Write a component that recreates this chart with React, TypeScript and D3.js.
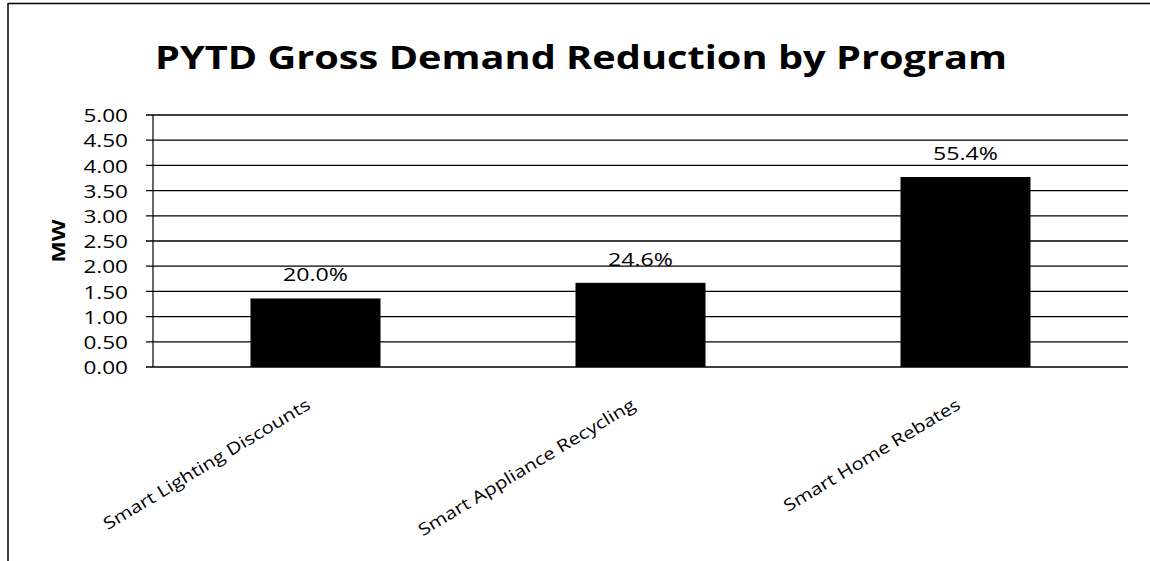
import React from "react";
import * as d3 from "d3";

const categories = [
  "Smart Lighting Discounts",
  "Smart Appliance Recycling",
  "Smart Home Rebates",
];
const demandMW = [1.36, 1.67, 3.77];
const yTicks = [0, 0.5, 1, 1.5, 2, 2.5, 3, 3.5, 4, 4.5, 5];
const titleText = "PYTD Gross Demand Reduction by Program";
const yAxisTitle = "MW";

const W = 1150;
const H = 561;
const FONT = "'Open Sans', 'Noto Sans', sans-serif";
const SX = 1.22; // horizontal stretch applied to chart text

export default function App() {
  const x = d3
    .scaleBand<string>()
    .domain(categories)
    .range([153, 1128])
    .paddingInner(0.6)
    .paddingOuter(0.3);
  const y = d3.scaleLinear().domain([0, 5]).range([367, 115]);
  const total = d3.sum(demandMW);
  const pct = d3.format(".1%");
  const tickFmt = d3.format(".2f");

  return (
    <div style={{ position: "fixed", left: 0, top: 0, width: W, height: H, background: "#fff" }}>
      <svg width={W} height={H} style={{ display: "block" }}>
        <rect x={0} y={0} width={W} height={H} fill="#fff" />
        {/* chart frame */}
        <line x1={8} x2={W} y1={3.5} y2={3.5} stroke="#000" strokeWidth={1.5} />
        <line x1={8} x2={8} y1={3} y2={H} stroke="#000" strokeWidth={1.5} />

        {/* title */}
        <text
          x={581}
          y={69}
          textAnchor="middle"
          fontFamily={FONT}
          fontWeight={700}
          fontSize={33}
          textLength={852}
          lengthAdjust="spacingAndGlyphs"
          fill="#000"
        >
          {titleText}
        </text>

        {/* gridlines, ticks and tick labels */}
        {yTicks.map((t) => (
          <g key={t}>
            <line x1={146} x2={1128} y1={y(t)} y2={y(t)} stroke="#000" strokeWidth={1.3} />
            <text
              transform={`translate(128,${y(t)}) scale(${SX},1)`}
              textAnchor="end"
              dominantBaseline="central"
              fontFamily={FONT}
              fontSize={18.5}
              fill="#000"
            >
              {tickFmt(t)}
            </text>
          </g>
        ))}
        <line x1={153} x2={153} y1={y(5)} y2={y(0)} stroke="#000" strokeWidth={1.2} />

        {/* y-axis title */}
        <text
          transform={`translate(65,${(y(0) + y(5)) / 2}) rotate(-90) scale(${SX},1)`}
          textAnchor="middle"
          fontFamily={FONT}
          fontWeight={700}
          fontSize={18.5}
          fill="#000"
        >
          {yAxisTitle}
        </text>

        {/* bars and value labels */}
        {categories.map((c, i) => {
          const v = demandMW[i];
          const bx = x(c) as number;
          const cx = bx + x.bandwidth() / 2;
          return (
            <g key={c}>
              <rect x={bx} y={y(v)} width={x.bandwidth()} height={y(0) - y(v)} fill="#000" />
              <text
                transform={`translate(${cx},${y(v) - 17}) scale(${SX},1)`}
                textAnchor="middle"
                fontFamily={FONT}
                fontSize={19}
                fill="#000"
              >
                {pct(v / total)}
              </text>
              <text
                transform={`translate(${cx - 4},${y(0) + 41}) rotate(-31) scale(${SX},1)`}
                textAnchor="end"
                fontFamily={FONT}
                fontSize={16.8}
                fill="#000"
              >
                {c}
              </text>
            </g>
          );
        })}
      </svg>
    </div>
  );
}
